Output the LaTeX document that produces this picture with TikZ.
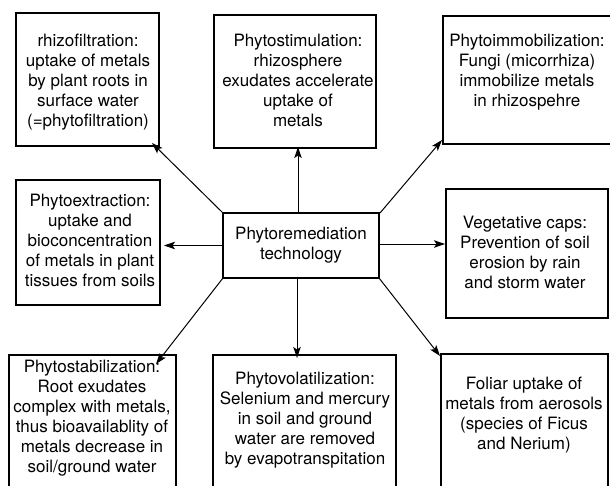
\documentclass[tikz,border=0pt]{standalone}
\usepackage{fontspec}
\setmainfont{TeX Gyre Heros}
\usetikzlibrary{arrows.meta}
\tikzset{
  box/.style={draw=black, line width=1.2pt, inner sep=0pt, outer sep=0pt, rectangle},
  lbl/.style={align=center, inner sep=0pt, font=\fontsize{17}{20}\selectfont},
  arr/.style={draw=black, line width=1pt, -{Stealth[length=11pt,width=7.5pt,inset=2.5pt]}}
}
\begin{document}
\begin{tikzpicture}[x=1pt,y=-1pt]
\useasboundingbox (0,0) rectangle (610,485);
\clip (0,0) rectangle (610,485);
\fill[white] (0,0) rectangle (610,485);
% boxes
\node[box, minimum width=143pt, minimum height=133pt] (tl) at (87.5,79.5) {};
\node[box, minimum width=162pt, minimum height=133pt] (tm) at (295,81.5) {};
\node[box, minimum width=172pt, minimum height=128pt] (tr) at (529,80) {};
\node[box, minimum width=144pt, minimum height=125pt] (lm) at (88,242.5) {};
\node[box, minimum width=156pt, minimum height=65pt, lbl] (c) at (301,245.5) {Phytoremediation\\technology};
\node[box, minimum width=162pt, minimum height=129pt] (vc) at (527,253.5) {};
\node[box, minimum width=167pt, minimum height=140pt] (bl) at (92.5,425) {};
\node[box, minimum width=183pt, minimum height=140pt] (bm) at (304.5,425) {};
\node[box, minimum width=167pt, minimum height=141pt] (br) at (524.5,424.5) {};
% texts
\node[lbl] (tlt) at (88,82) {rhizofiltration:\\uptake of metals\\by plant roots in\\surface water\\(=phytofiltration)};
\node[lbl] (tmt) at (298,80) {Phytostimulation:\\rhizosphere\\exudates accelerate\\uptake of\\metals};
\node[lbl] (trt) at (527,72) {Phytoimmobilization:\\Fungi (micorrhiza)\\immobilize metals\\in rhizospehre};
\node[lbl] (lmt) at (90,240) {Phytoextraction:\\uptake and\\bioconcentration\\of metals in plant\\tissues from soils};
\node[lbl] (vct) at (525,252) {Vegetative caps:\\Prevention of soil\\erosion by rain\\and storm water};
\node[lbl] (blt) at (92,418) {Phytostabilization:\\Root exudates\\complex with metals,\\thus bioavailablity of\\metals decrease in\\soil/ground water};
\node[lbl] (bmt) at (305,420) {Phytovolatilization:\\Selenium and mercury\\in soil and ground\\water are removed\\by evapotranspitation};
\node[lbl] (brt) at (524,415) {Foliar uptake of\\metals from aerosols\\(species of Ficus\\and Nerium)};
% connectors
\draw[arr] (c.north west) -- ([xshift=-7pt,yshift=3pt]tl.south east);
\draw[arr] ([xshift=-3pt]c.north) -- ([xshift=3pt,yshift=1pt]tm.south);
\draw[arr] ([xshift=1pt]c.north east) -- ([xshift=-1pt,yshift=4pt]tr.south west);
\draw[arr, shorten >=4pt] (c.west) -- (c.west -| lm.east);
\draw[arr, shorten >=1pt] ([yshift=1.5pt]c.east) -- ([yshift=1.5pt]c.east -| vc.west);
\draw[arr] (c.south west) -- ([xshift=-20pt,yshift=-9pt]bl.north east);
\draw[arr] ([xshift=-4pt]c.south) -- ([xshift=-7.5pt,yshift=-3pt]bm.north);
\draw[arr] (c.south east) -- ([xshift=-1pt,yshift=-2pt]br.north west);
\end{tikzpicture}
\end{document}
